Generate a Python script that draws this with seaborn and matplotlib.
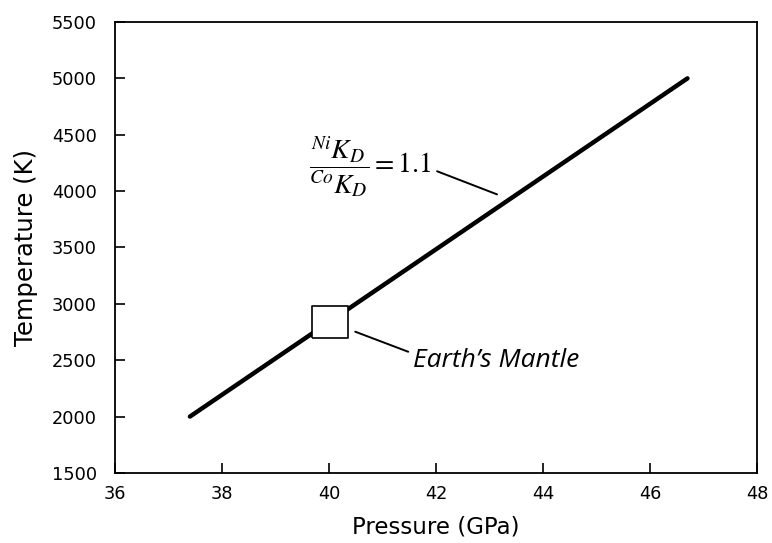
import matplotlib
matplotlib.use("Agg")
import matplotlib.pyplot as plt
import seaborn as sns
import pandas as pd

# Ni/Co partitioning isoline: KD ratio = 1.1
pressure_gpa = [37.4, 46.7]
temperature_k = [2000, 5000]

# Earth's mantle condition
mantle_pressure = [40.02]
mantle_temperature = [2835]

x_ticks = [36, 38, 40, 42, 44, 46, 48]
y_ticks = [1500, 2000, 2500, 3000, 3500, 4000, 4500, 5000, 5500]

sns.set_style("ticks")
plt.rcParams["font.family"] = ["DejaVu Sans"]
plt.rcParams["mathtext.fontset"] = "stix"
plt.rcParams["axes.labelcolor"] = "black"
plt.rcParams["text.color"] = "black"

fig = plt.figure(figsize=(7.72, 5.43), dpi=100)
ax = fig.add_axes([0.149, 0.129, 0.8316, 0.8305])

line_df = pd.DataFrame({"P": pressure_gpa, "T": temperature_k})
sns.lineplot(data=line_df, x="P", y="T", ax=ax, color="black", linewidth=3.2,
             solid_capstyle="round")

# slightly wide open box marker
box = [(-1.0, -0.89), (1.0, -0.89), (1.0, 0.89), (-1.0, 0.89), (-1.0, -0.89)]
mantle_df = pd.DataFrame({"P": mantle_pressure, "T": mantle_temperature})
sns.scatterplot(data=mantle_df, x="P", y="T", ax=ax, marker=box, s=680,
                facecolor="white", edgecolor="black", linewidth=1.2, zorder=5)

ax.set_xlim(36, 48)
ax.set_ylim(1500, 5500)
ax.set_xticks(x_ticks)
ax.set_yticks(y_ticks)
ax.tick_params(direction="in", length=7, width=1.2, labelsize=12.8,
               colors="black")
ax.tick_params(axis="y", pad=13)
ax.tick_params(axis="x", pad=8.5)
for s in ax.spines.values():
    s.set_linewidth(1.3)
    s.set_color("black")

ax.set_xlabel("Pressure (GPa)", fontsize=16.5, labelpad=9)
ax.set_ylabel("Temperature (K)", fontsize=17.5, labelpad=10)

# KD ratio label with leader line
ax.text(41.91, 4211, r"$\dfrac{{}^{Ni}K_D}{{}^{Co}K_D}=1.1$", fontsize=20,
        ha="right", va="center", color="black")
ax.plot([42.02, 43.14], [4176, 3971], color="black", linewidth=1.4)

# Earth's mantle label with leader line
ax.plot([40.49, 41.48], [2753, 2575], color="black", linewidth=1.4)
ax.text(41.57, 2500, "Earth\u2019s Mantle", fontsize=19, style="italic",
        family=["Open Sans", "DejaVu Sans"], ha="left", va="center",
        color="black")

fig.savefig("out.png", dpi=100)
